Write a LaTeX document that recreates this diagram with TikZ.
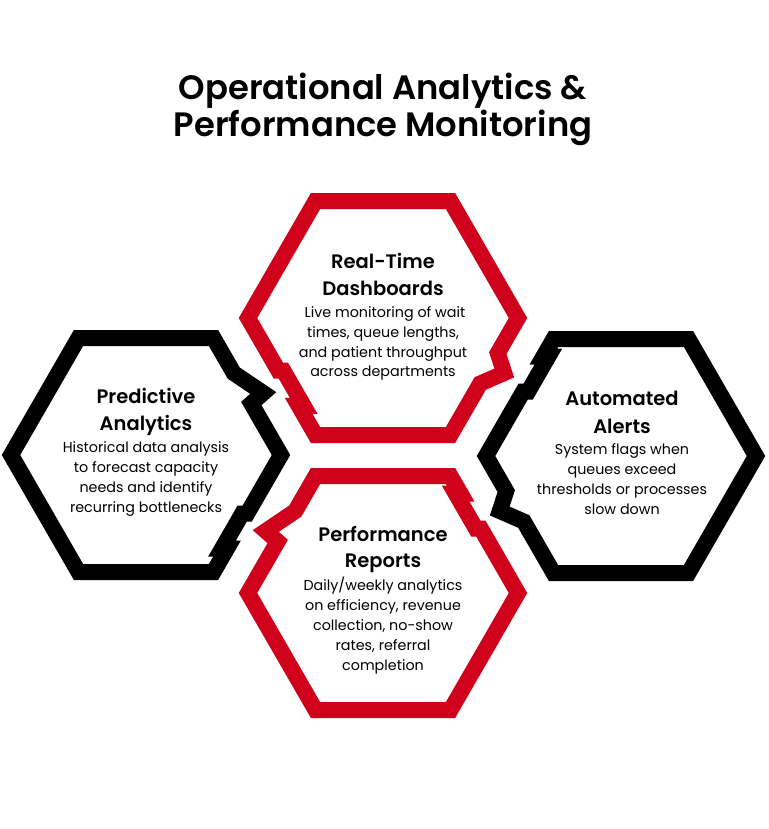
\documentclass[tikz,border=0pt]{standalone}
\usepackage{fontspec}
\setmainfont{Poppins}[BoldFont={Poppins SemiBold}]
\usetikzlibrary{calc}
\definecolor{hexred}{RGB}{208,2,27}
\definecolor{ink}{RGB}{0,0,0}
\begin{document}
\begin{tikzpicture}[x=1pt,y=-1pt,
  hexline/.style={line width=16pt, line join=miter, miter limit=4, fill=white},
  ttl/.style={anchor=base, font=\fontsize{33.8}{38}\selectfont\bfseries, inner sep=0, text=ink},
  hd/.style={anchor=base, font=\fontsize{19.5}{22}\selectfont\bfseries, inner sep=0, text=ink},
  bd/.style={anchor=base, font=\fontsize{14.3}{17}\selectfont, inner sep=0, text=ink}]
\useasboundingbox (0,0) rectangle (768,829);
% vertices
\coordinate (Tr) at (518,318);   \coordinate (Tlr) at (450.5,435); \coordinate (Tll) at (315.5,435);
\coordinate (Tl) at (248,318);   \coordinate (Tul) at (315.5,201); \coordinate (Tur) at (450.5,201);
\coordinate (Lr) at (281,455);   \coordinate (Llr) at (213.5,572); \coordinate (Lll) at (78.5,572);
\coordinate (Ll) at (11,455);    \coordinate (Lul) at (78.5,338);  \coordinate (Lur) at (213.5,338);
\coordinate (Rr) at (756,456);   \coordinate (Rlr) at (688.5,573); \coordinate (Rll) at (553.5,573);
\coordinate (Rl) at (486,456);   \coordinate (Rul) at (553.5,339); \coordinate (Rur) at (688.5,339);
\coordinate (Br) at (518,593);   \coordinate (Blr) at (450.5,710); \coordinate (Bll) at (315.5,710);
\coordinate (Bl) at (248,593);   \coordinate (Bul) at (315.5,476); \coordinate (Bur) at (450.5,476);
% top red
\draw[hexline, draw=hexred] (Tur) -- (Tr)
  -- ($(Tr)!0.30!(Tlr)$) -- ($(Tr)!0.47!(Tlr)+(18,0)$) -- ($(Tr)!0.56!(Tlr)$)
  -- (Tlr) -- (Tll)
  -- ($(Tl)!0.75!(Tll)$) -- ($(Tl)!0.75!(Tll)+(5,0)$) -- ($(Tl)!0.45!(Tll)+(5,0)$) -- ($(Tl)!0.45!(Tll)$)
  -- (Tl) -- (Tul) -- cycle;
% left black
\draw[hexline, draw=ink] (Lul) -- (Lur)
  -- ($(Lur)!0.30!(Lr)$) -- ($(Lur)!0.47!(Lr)+(18,0)$) -- ($(Lur)!0.56!(Lr)$)
  -- (Lr)
  -- ($(Lr)!0.5!(Llr)$) -- ($(Lr)!0.5!(Llr)+(-5,0)$) -- ($(Lr)!0.8!(Llr)+(-5,0)$) -- ($(Lr)!0.8!(Llr)$)
  -- (Llr) -- (Lll) -- (Ll) -- cycle;
% right black
\draw[hexline, draw=ink] (Rur) -- (Rr) -- (Rlr) -- (Rll)
  -- ($(Rl)!0.56!(Rll)$) -- ($(Rl)!0.47!(Rll)+(-18,0)$) -- ($(Rl)!0.30!(Rll)$)
  -- (Rl)
  -- ($(Rul)!0.45!(Rl)$) -- ($(Rul)!0.45!(Rl)+(5,0)$) -- ($(Rul)!0.15!(Rl)+(5,0)$) -- ($(Rul)!0.15!(Rl)$)
  -- (Rul) -- cycle;
% bottom red
\draw[hexline, draw=hexred] (Bur)
  -- ($(Bur)!0.15!(Br)$) -- ($(Bur)!0.15!(Br)+(-5,0)$) -- ($(Bur)!0.45!(Br)+(-5,0)$) -- ($(Bur)!0.45!(Br)$)
  -- (Br) -- (Blr) -- (Bll) -- (Bl)
  -- ($(Bul)!0.56!(Bl)$) -- ($(Bul)!0.47!(Bl)+(-18,0)$) -- ($(Bul)!0.30!(Bl)$)
  -- (Bul) -- cycle;
% title
\node[ttl] (title1) at (383,100) {Operational Analytics \&};
\node[ttl] (title2) at (383,137) {Performance Monitoring};
% top
\node[hd] (th1) at (383,268) {Real-Time};
\node[hd] (th2) at (383,295) {Dashboards};
\node[bd] (tb1) at (385,317) {Live monitoring of wait};
\node[bd] (tb2) at (383,337) {times, queue lengths,};
\node[bd] (tb3) at (383,357) {and patient throughput};
\node[bd] (tb4) at (383,376) {across departments};
% left
\node[hd] (lh1) at (146,403) {Predictive};
\node[hd] (lh2) at (146,430) {Analytics};
\node[bd] (lb1) at (146,452) {Historical data analysis};
\node[bd] (lb2) at (146,472) {to forecast capacity};
\node[bd] (lb3) at (146,492) {needs and identify};
\node[bd] (lb4) at (146,512) {recurring bottlenecks};
% right
\node[hd] (rh1) at (622,405) {Automated};
\node[hd] (rh2) at (622,433) {Alerts};
\node[bd] (rb1) at (622,454) {System flags when};
\node[bd] (rb2) at (622,474) {queues exceed};
\node[bd] (rb3) at (622,494) {thresholds or processes};
\node[bd] (rb4) at (622,514) {slow down};
% bottom
\node[hd] (bh1) at (383,541) {Performance};
\node[hd] (bh2) at (383,567) {Reports};
\node[bd] (bb1) at (383,590) {Daily/weekly analytics};
\node[bd] (bb2) at (383,610) {on efficiency, revenue};
\node[bd] (bb3) at (383,630) {collection, no-show};
\node[bd] (bb4) at (383,650) {rates, referral};
\node[bd] (bb5) at (383,670) {completion};
\end{tikzpicture}
\end{document}
